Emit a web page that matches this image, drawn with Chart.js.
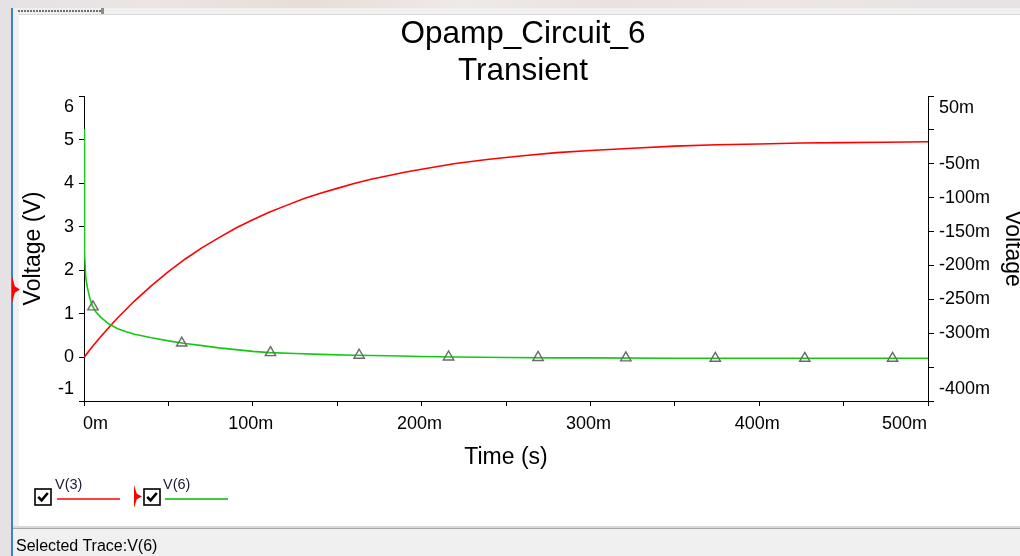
<!DOCTYPE html>
<html>
<head>
<meta charset="utf-8">
<script src="https://cdn.jsdelivr.net/npm/chart.js@4.4.1/dist/chart.umd.min.js"></script>
<style>
html,body{margin:0;padding:0;width:1020px;height:556px;overflow:hidden;}
body{position:relative;font-family:'Liberation Sans',Arial,sans-serif;
 background:linear-gradient(90deg,#e6e1e4 0%,#ece5e3 15%,#e8ddd8 30%,#efe9e7 45%,#e9e2e0 60%,#ede6e4 75%,#e7e2e3 100%);}
#win{position:absolute;left:11px;top:8px;right:0;bottom:0;background:#f0f0f0;border-left:2px solid #3a84c6;}
#tabdots{position:absolute;left:18px;top:10px;width:83px;height:2px;background:repeating-linear-gradient(90deg,#707070 0 2px,transparent 2px 3px);}
#tabend{position:absolute;left:101px;top:8px;width:3px;height:6px;background:#8c8c8c;}
#panel{position:absolute;left:19px;top:14px;right:0;height:511px;background:#fff;border-top:1px solid #dadada;}
#sep1{position:absolute;left:13px;right:0;top:526px;height:2px;background:#d9d9d9;}
#sep2{position:absolute;left:13px;right:0;top:528px;height:1px;background:#a6a6a6;}
#status{position:absolute;left:16px;top:537px;font-size:16px;line-height:18px;color:#000;white-space:nowrap;z-index:3;}
canvas#chart{position:absolute;left:0;top:0;z-index:2;}
.lg{position:absolute;z-index:3;}
.lgtext{font-size:14.5px;line-height:16px;color:#1a1a30;white-space:nowrap;}
.marker{background:#ff0000;clip-path:polygon(0 0,35% 38%,100% 50%,35% 62%,0 100%);}
</style>
</head>
<body>
<div id="win"></div>
<div id="tabdots"></div>
<div id="tabend"></div>
<div id="panel"></div>
<div id="sep1"></div>
<div id="sep2"></div>
<canvas id="chart" width="1020" height="556"></canvas>

<div class="lg marker" style="left:12px;top:276px;width:8px;height:27px;"></div>

<div class="lg" style="left:34px;top:488px;width:18px;height:18px;">
<svg width="18" height="18" viewBox="0 0 18 18"><rect x="1" y="1" width="16" height="16" fill="#fff" stroke="#000" stroke-width="1.6"/><path d="M4.2 8.8 L7.6 12.4 L13.8 5" fill="none" stroke="#000" stroke-width="2.6"/></svg>
</div>
<div class="lg lgtext" id="lg0" style="left:55px;top:476px;"></div>
<div class="lg" id="lgline0" style="left:57px;top:498px;width:63px;height:2px;"></div>

<div class="lg marker" style="left:134px;top:485px;width:8px;height:23px;"></div>
<div class="lg" style="left:143px;top:488px;width:18px;height:18px;">
<svg width="18" height="18" viewBox="0 0 18 18"><rect x="1" y="1" width="16" height="16" fill="#fff" stroke="#000" stroke-width="1.6"/><path d="M4.2 8.8 L7.6 12.4 L13.8 5" fill="none" stroke="#000" stroke-width="2.6"/></svg>
</div>
<div class="lg lgtext" id="lg1" style="left:163px;top:476px;"></div>
<div class="lg" id="lgline1" style="left:165px;top:498px;width:63px;height:2px;"></div>

<div id="status">Selected Trace:V(6)</div>

<script>
// ---- data ----
const seriesNames = ['V(3)', 'V(6)'];
const seriesColors = ['#ff0000', '#14c814'];
const legendLineColors = ['#ff4040', '#40c840'];

// time in ms
const v3Time  = [0,5,10,15,20,30,40,50,60,70,80,90,100,110,120,130,140,150,160,170,180,190,200,220,240,260,280,300,325,350,375,400,425,450,475,500];
const v3Volts = [0,0.25,0.48,0.70,0.91,1.30,1.65,1.97,2.26,2.52,2.75,2.97,3.16,3.34,3.49,3.64,3.77,3.88,3.99,4.09,4.17,4.25,4.32,4.45,4.55,4.63,4.70,4.75,4.80,4.85,4.88,4.90,4.92,4.93,4.94,4.95];

const v6Time  = [0,0.3,1,2,3.5,5,7,10,15,20,25,30,40,50,60,70,80,90,100,110,125,140,160,180,200,220,250,280,300,350,400,450,500];
const v6Volts = [5.25,2.4,1.85,1.6,1.35,1.18,1.05,0.92,0.76,0.66,0.59,0.53,0.45,0.38,0.32,0.27,0.22,0.18,0.14,0.11,0.09,0.07,0.05,0.04,0.02,0.01,0.0,-0.01,-0.01,-0.02,-0.02,-0.02,-0.02];

const v6MarkTime  = [5.3,57.9,110.5,163,216,269,321,374,427,479];
const v6MarkVolts = [1.16,0.33,0.11,0.05,0.01,0.0,-0.01,-0.02,-0.02,-0.02];

const xTickLabels = ['0m','100m','200m','300m','400m','500m'];
const leftTickLabels = ['-1','0','1','2','3','4','5','6'];
const rightTickLabels = ['-400m','','-300m','-250m','-200m','-150m','-100m','-50m','','50m'];

const chartTitle = ['Opamp_Circuit_6', 'Transient'];
const xTitle = 'Time (s)';
const yTitle = 'Voltage (V)';
const y2Title = 'Voltage';

// ---- legend text ----
document.getElementById('lg0').textContent = seriesNames[0];
document.getElementById('lg1').textContent = seriesNames[1];
document.getElementById('lgline0').style.background = legendLineColors[0];
document.getElementById('lgline1').style.background = legendLineColors[1];

const FAMILY = "'Liberation Sans', Arial, sans-serif";
Chart.defaults.font.family = FAMILY;
Chart.defaults.color = '#000';

const toPts = (xs, ys) => xs.map((t, i) => ({x: t, y: ys[i]}));

const endLabels = {
  id: 'endLabels',
  afterDraw(chart) {
    const {ctx} = chart;
    const {x, y, y2} = chart.scales;
    ctx.save();
    ctx.font = '18px ' + FAMILY;
    ctx.fillStyle = '#000';
    ctx.textBaseline = 'middle';
    ctx.textAlign = 'right';
    ctx.fillText(leftTickLabels[leftTickLabels.length - 1], y.right - 10, y.getPixelForValue(y.max) + 11.5);
    ctx.fillText(leftTickLabels[0], y.right - 10, y.getPixelForValue(y.min) - 11.5);
    ctx.textAlign = 'left';
    ctx.fillText(rightTickLabels[rightTickLabels.length - 1], y2.left + 11, y2.getPixelForValue(y2.max) + 12);
    ctx.fillText(rightTickLabels[0], y2.left + 11, y2.getPixelForValue(y2.min) - 12);
    const ly = x.top + 5 + 7 + 10.8;
    ctx.fillText(xTickLabels[0], x.getPixelForValue(x.min) - 1, ly);
    ctx.textAlign = 'right';
    ctx.fillText(xTickLabels[xTickLabels.length - 1], x.getPixelForValue(x.max) - 1, ly);
    ctx.restore();
  }
};

const axisGrid = (len) => ({drawOnChartArea: false, drawTicks: true, tickLength: len, tickColor: '#000', tickWidth: 1, color: '#000'});
const axisBorder = {display: true, color: '#000', width: 1};

new Chart(document.getElementById('chart'), {
  type: 'line',
  data: {
    datasets: [
      {
        label: seriesNames[1] + ' markers',
        data: toPts(v6MarkTime, v6MarkVolts),
        showLine: false,
        pointStyle: 'triangle',
        pointRadius: 6,
        pointBorderColor: '#6a6a6a',
        pointBackgroundColor: 'rgba(0,0,0,0)',
        pointBorderWidth: 1.4,
        yAxisID: 'y',
        order: 0
      },
      {
        label: seriesNames[1],
        data: toPts(v6Time, v6Volts),
        borderColor: seriesColors[1],
        borderWidth: 1.6,
        pointRadius: 0,
        tension: 0,
        yAxisID: 'y',
        order: 1
      },
      {
        label: seriesNames[0],
        data: toPts(v3Time, v3Volts),
        borderColor: seriesColors[0],
        borderWidth: 1.6,
        pointRadius: 0,
        tension: 0,
        yAxisID: 'y',
        order: 2
      }
    ]
  },
  options: {
    responsive: false,
    animation: false,
    devicePixelRatio: 1,
    layout: {padding: {left: 26, right: 0, top: 0, bottom: 85}},
    plugins: {
      legend: {display: false},
      tooltip: {enabled: false},
      title: {
        display: true,
        text: chartTitle,
        color: '#000',
        font: {size: 31.5, weight: 'normal', lineHeight: 1.178},
        padding: {top: 15.4, bottom: 6.4}
      }
    },
    scales: {
      x: {
        type: 'linear',
        position: 'bottom',
        min: 0, max: 500,
        afterFit: (s) => { s.height = 70; },
        ticks: {
          stepSize: 50, autoSkip: false, maxRotation: 0, padding: 7, labelOffset: -2,
          font: {size: 18},
          callback: (v, i, arr) => (i === 0 || i === arr.length - 1 || i % 2) ? '' : xTickLabels[i / 2]
        },
        grid: axisGrid(5),
        border: axisBorder,
        title: {display: true, text: xTitle, font: {size: 23}, padding: {top: 0, bottom: 0}}
      },
      y: {
        type: 'linear',
        position: 'left',
        min: -1, max: 6,
        afterFit: (s) => { s.width = 58; },
        ticks: {
          stepSize: 1, autoSkip: false, padding: 5, font: {size: 18},
          callback: (v, i, arr) => (i === 0 || i === arr.length - 1) ? '' : leftTickLabels[i]
        },
        grid: axisGrid(5),
        border: axisBorder,
        title: {display: true, text: yTitle, font: {size: 23}, padding: {top: -5.8, bottom: 0}}
      },
      y2: {
        type: 'linear',
        position: 'right',
        min: -400, max: 50,
        afterFit: (s) => { s.width = 92; },
        ticks: {
          stepSize: 50, autoSkip: false, padding: 5, font: {size: 18},
          callback: (v, i, arr) => (i === 0 || i === arr.length - 1) ? '' : rightTickLabels[i]
        },
        grid: axisGrid(6),
        border: axisBorder,
        title: {display: true, text: y2Title, font: {size: 23}, padding: {top: -6.3, bottom: 0}}
      }
    }
  },
  plugins: [endLabels]
});
</script>
</body>
</html>
